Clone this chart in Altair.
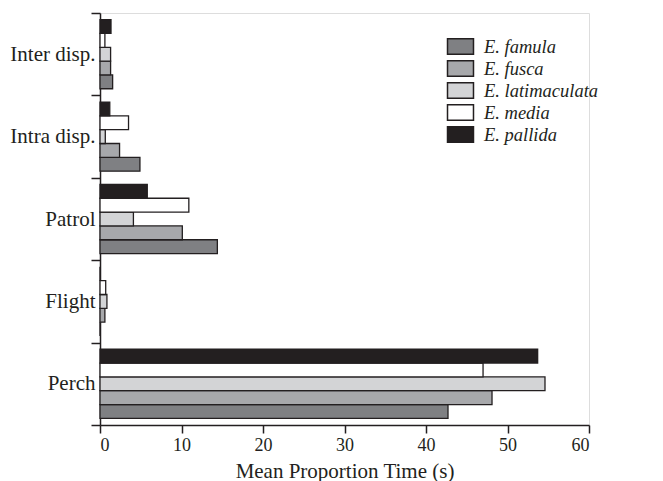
import altair as alt
import pandas as pd

categories = ["Inter disp.", "Intra disp.", "Patrol", "Flight", "Perch"]
species = ["E. famula", "E. fusca", "E. latimaculata", "E. media", "E. pallida"]
bar_order = ["E. pallida", "E. media", "E. latimaculata", "E. fusca", "E. famula"]

famula = [1.55, 4.9, 14.4, 0.0, 42.7]
fusca = [1.3, 2.4, 10.1, 0.6, 48.1]
latimaculata = [1.3, 0.65, 4.1, 0.85, 54.6]
media = [0.6, 3.5, 10.9, 0.7, 47.0]
pallida = [1.35, 1.2, 5.8, 0.0, 53.7]

colors = ["#7f8083", "#a7a8ab", "#d3d4d6", "#ffffff", "#231f20"]

series = {"E. famula": famula, "E. fusca": fusca, "E. latimaculata": latimaculata,
          "E. media": media, "E. pallida": pallida}
rows = []
for sp, vals in series.items():
    for c, v in zip(categories, vals):
        rows.append({"category": c, "species": sp, "value": v})
df = pd.DataFrame(rows)

FONT = "Liberation Serif"
INK = "#231f20"

chart = alt.Chart(df).mark_bar(stroke=INK, strokeWidth=1.3).encode(
    x=alt.X("value:Q", scale=alt.Scale(domain=[0, 60], nice=False),
            axis=alt.Axis(title="Mean Proportion Time (s)", values=[0, 10, 20, 30, 40, 50, 60],
                          grid=False, tickSize=8, tickColor=INK, tickWidth=1.5,
                          domainColor=INK, domainWidth=1.5, labelFont=FONT, labelFontSize=18,
                          labelColor=INK, labelPadding=3, titleFont=FONT, titleFontSize=21,
                          titleFontWeight="normal", titleColor=INK, titlePadding=6)),
    y=alt.Y("category:N", sort=categories,
            scale=alt.Scale(paddingInner=0, paddingOuter=0),
            axis=alt.Axis(title=None, tickBand="extent", tickSize=9, tickColor=INK, tickWidth=1.5,
                          domainColor=INK, domainWidth=1.5, labelFont=FONT, labelFontSize=21,
                          labelColor=INK, labelPadding=-4)),
    yOffset=alt.YOffset("species:N", sort=bar_order,
                        scale=alt.Scale(paddingInner=0, paddingOuter=0.48)),
    color=alt.Color("species:N", scale=alt.Scale(domain=species, range=colors),
                    legend=alt.Legend(title=None, orient="none", legendX=351, legendY=24,
                                      symbolType="M-1.5,-0.9H1.5V0.9H-1.5Z", symbolSize=300,
                                      symbolStrokeColor=INK, symbolStrokeWidth=1.5,
                                      symbolOpacity=1, symbolFillColor="#ffffff",
                                      labelFont=FONT, labelFontSize=18.5, labelFontStyle="italic",
                                      labelColor=INK, labelOffset=14, rowPadding=-1, padding=0)),
).properties(
    width=489, height=412,
    autosize=alt.AutoSizeParams(type="none"),
    padding={"left": 92, "top": 5, "right": 60, "bottom": 56},
).configure_view(stroke=None).configure(background="#ffffff")

chart.save("out.html", embed_options={"renderer": "svg", "actions": False})
